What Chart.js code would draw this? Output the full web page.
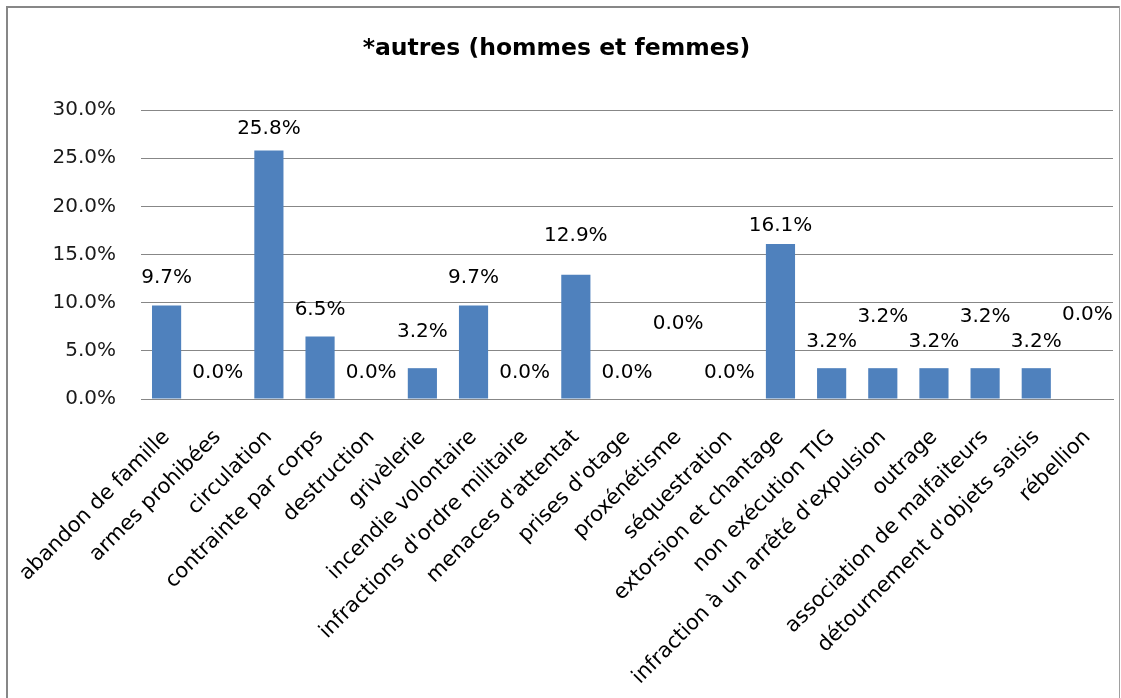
<!DOCTYPE html>
<html><head><meta charset="utf-8">
<script src="https://cdn.jsdelivr.net/npm/chart.js@4.4.0/dist/chart.umd.min.js"></script>
<style>html,body{margin:0;padding:0;background:#fff;}#wrap{position:relative;width:1121px;height:698px;}</style>
</head><body><div id="wrap"><canvas id="c" width="1121" height="698"></canvas></div>
<script>
const categories = ["abandon de famille","armes prohibées","circulation","contrainte par corps","destruction","grivèlerie","incendie volontaire","infractions d'ordre militaire","menaces d'attentat","prises d'otage","proxénétisme","séquestration","extorsion et chantage","non exécution TIG","infraction à un arrêté d'expulsion","outrage","association de malfaiteurs","détournement d'objets saisis","rébellion"];
const values = [9.7,0,25.8,6.5,0,3.2,9.7,0,12.9,0,0,0,16.1,3.2,3.2,3.2,3.2,3.2,0];
const yTickValues = [0,5,10,15,20,25,30];
const chartTitle = "*autres (hommes et femmes)";
// vertical offset (px) of each data label above its bar top, as placed in the original
const labelLift = [28,26.5,21.5,27,26.5,36,27.5,26.5,39,26.5,75.5,26.5,18,26,51,26,51,26,84];

const FONT = "'DejaVu Sans', sans-serif";

const framePlugin = {
  id: 'frame',
  beforeDraw(chart) {
    const ctx = chart.ctx;
    ctx.save();
    ctx.fillStyle = '#fff';
    ctx.fillRect(0, 0, chart.width, chart.height);
    ctx.fillStyle = '#878787';
    ctx.fillRect(6, 6, 2, chart.height - 6);
    ctx.fillRect(6, 6, 1114, 2);
    ctx.fillStyle = '#a0a0a0';
    ctx.fillRect(1119, 6, 1, chart.height - 6);
    ctx.restore();
  }
};

const dataLabelPlugin = {
  id: 'dlabels',
  afterDatasetsDraw(chart) {
    const ctx = chart.ctx;
    const meta = chart.getDatasetMeta(0);
    ctx.save();
    ctx.font = "20px " + FONT;
    ctx.fillStyle = '#000';
    ctx.textAlign = 'center';
    ctx.textBaseline = 'middle';
    meta.data.forEach((bar, i) => {
      const v = chart.data.datasets[0].data[i];
      ctx.fillText(v.toFixed(1) + '%', bar.x, bar.y - labelLift[i]);
    });
    ctx.restore();
  }
};

new Chart(document.getElementById('c'), {
  type: 'bar',
  data: {
    labels: categories,
    datasets: [{
      data: values,
      backgroundColor: '#4F81BD',
      categoryPercentage: 1.0,
      barPercentage: 0.57
    }]
  },
  options: {
    responsive: false,
    animation: false,
    devicePixelRatio: 1,
    layout: { padding: { left: 0, right: 8, top: 0, bottom: 0 } },
    plugins: {
      legend: { display: false },
      tooltip: { enabled: false },
      title: {
        display: true,
        text: chartTitle,
        color: '#000',
        font: { family: FONT, size: 23.5, weight: 'bold' },
        padding: { top: 35, bottom: 46.8 }
      }
    },
    scales: {
      x: {
        grid: { display: false, drawTicks: false },
        border: { display: true, color: '#878787', width: 1 },
        ticks: {
          color: '#000',
          font: { family: FONT, size: 21 },
          minRotation: 45, maxRotation: 45,
          autoSkip: false,
          padding: 26
        },
        afterFit(scale) { scale.height = 299; scale.paddingLeft = 0; scale.paddingRight = 0; }
      },
      y: {
        min: 0, max: 30,
        afterBuildTicks(scale) { scale.ticks = yTickValues.map(v => ({ value: v })); },
        grid: { color: '#878787', drawTicks: false },
        border: { display: false },
        ticks: {
          color: '#1a1a1a',
          font: { family: FONT, size: 20 },
          padding: 25,
          callback: v => Number(v).toFixed(1) + '%'
        },
        afterFit(scale) { scale.width = 141; }
      }
    }
  },
  plugins: [framePlugin, dataLabelPlugin]
});
</script>
</body></html>
